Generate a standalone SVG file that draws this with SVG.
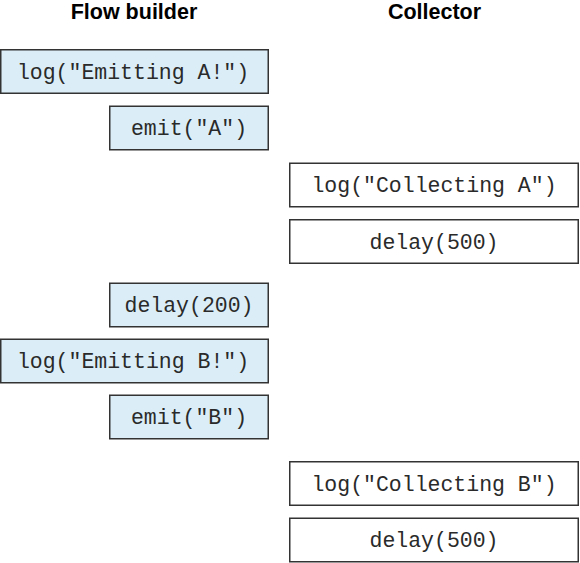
<svg xmlns="http://www.w3.org/2000/svg" width="580" height="563" viewBox="0 0 580 563">
<style>
.t{font-family:"Liberation Sans",Arial,sans-serif;font-weight:bold;font-size:21.5px;fill:#000;text-anchor:middle}
.b{stroke:#333;stroke-width:1.5}
.f{fill:#dbeef8}
.c{fill:#fff}
.m{font-family:"Liberation Mono","Courier New",monospace;font-size:21.5px;fill:#2a2a2a;text-anchor:middle}
</style>
<rect width="580" height="563" fill="#fff"/>
<text class="t" x="134" y="19">Flow builder</text>
<text class="t" x="434.5" y="19">Collector</text>
<g id="n1"><rect class="b f" x="0.75" y="49.75" width="267.5" height="43.5"/><text class="m" x="133" y="79">log("Emitting A!")</text></g>
<g id="n2"><rect class="b f" x="109.75" y="106.25" width="158.5" height="43.5"/><text class="m" x="189" y="135">emit("A")</text></g>
<g id="n3"><rect class="b c" x="289.75" y="163.25" width="288.5" height="43.5"/><text class="m" x="434" y="192">log("Collecting A")</text></g>
<g id="n4"><rect class="b c" x="289.75" y="219.75" width="288.5" height="43.5"/><text class="m" x="434" y="249">delay(500)</text></g>
<g id="n5"><rect class="b f" x="109.75" y="283.25" width="158.5" height="43.5"/><text class="m" x="189" y="312">delay(200)</text></g>
<g id="n6"><rect class="b f" x="0.75" y="339.25" width="267.5" height="43.5"/><text class="m" x="133" y="368">log("Emitting B!")</text></g>
<g id="n7"><rect class="b f" x="109.75" y="395.25" width="158.5" height="43.5"/><text class="m" x="189" y="424">emit("B")</text></g>
<g id="n8"><rect class="b c" x="289.75" y="461.75" width="288.5" height="43.5"/><text class="m" x="434" y="491">log("Collecting B")</text></g>
<g id="n9"><rect class="b c" x="289.75" y="518.25" width="288.5" height="43.5"/><text class="m" x="434" y="547">delay(500)</text></g>
<g id="connectors"></g>
</svg>
